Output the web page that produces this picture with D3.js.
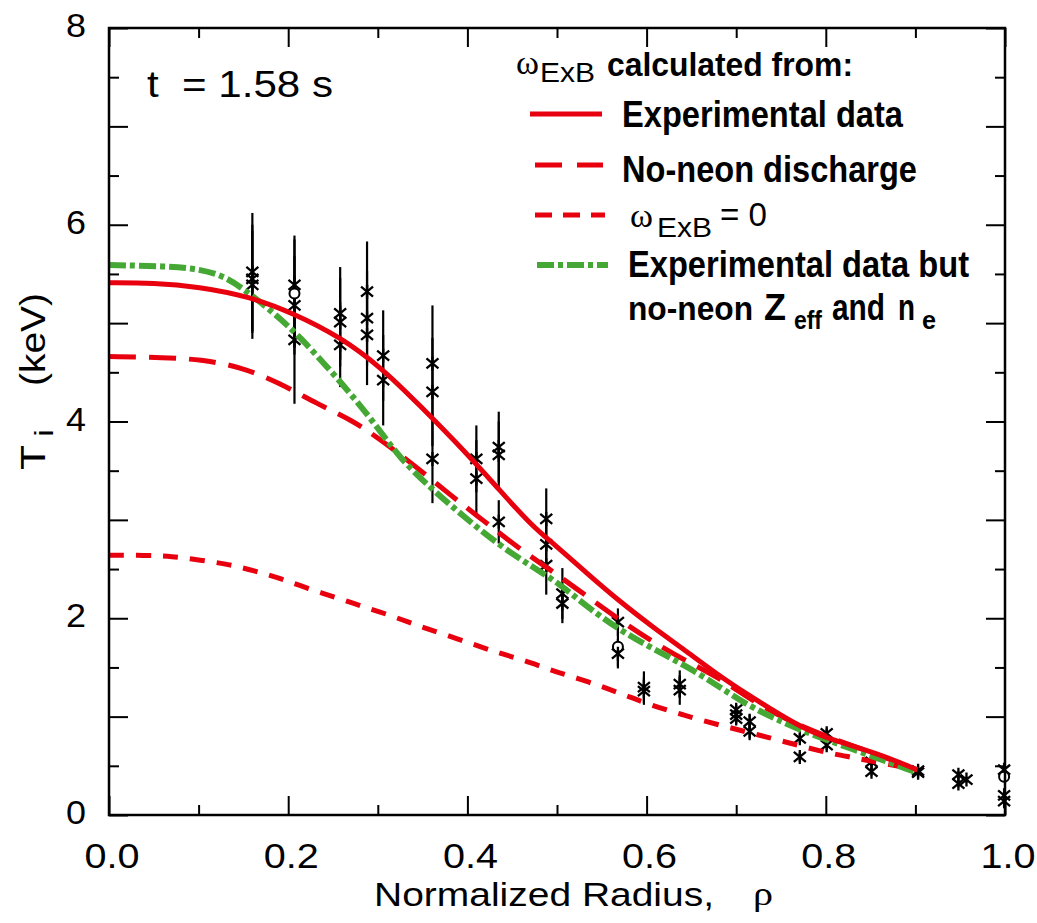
<!DOCTYPE html>
<html>
<head>
<meta charset="utf-8">
<script src="https://cdn.jsdelivr.net/npm/d3@7"></script>
<style>
  body { margin: 0; background: #fff; }
  svg { display: block; }
  text { font-family: "Liberation Sans", Arial, Helvetica, sans-serif; fill: #000; white-space: pre; }
</style>
</head>
<body>
<div id="app"></div>
<script>
// ---- data (rho, Ti in keV) ----
const expRho = [0, 0.05, 0.1, 0.157, 0.206, 0.258, 0.305, 0.345, 0.399, 0.436, 0.473, 0.496, 0.533, 0.570, 0.607, 0.645, 0.682, 0.71, 0.768, 0.801, 0.857, 0.902];
const expTi  = [5.41, 5.41, 5.37, 5.27, 5.10, 4.86, 4.54, 4.18, 3.68, 3.30, 2.93, 2.76, 2.46, 2.17, 1.91, 1.66, 1.41, 1.24, 0.91, 0.78, 0.63, 0.46];

const noNeonRho = [0, 0.063, 0.102, 0.146, 0.191, 0.232, 0.272, 0.299, 0.336, 0.384, 0.417, 0.453, 0.488, 0.522, 0.570, 0.607, 0.645, 0.682, 0.72, 0.76, 0.80, 0.85, 0.902];
const noNeonTi  = [4.66, 4.65, 4.63, 4.56, 4.39, 4.18, 4.01, 3.84, 3.59, 3.23, 3.00, 2.74, 2.52, 2.30, 1.98, 1.76, 1.56, 1.39, 1.15, 0.95, 0.80, 0.64, 0.46];

const zeroRho = [0, 0.04, 0.07, 0.102, 0.133, 0.163, 0.193, 0.222, 0.254, 0.283, 0.314, 0.343, 0.373, 0.405, 0.434, 0.464, 0.494, 0.523, 0.555, 0.581, 0.604, 0.64, 0.674, 0.74, 0.797, 0.827, 0.86, 0.902];
const zeroTi  = [2.64, 2.64, 2.63, 2.59, 2.55, 2.48, 2.40, 2.30, 2.21, 2.12, 2.03, 1.93, 1.84, 1.74, 1.65, 1.57, 1.47, 1.39, 1.29, 1.20, 1.12, 1.02, 0.93, 0.78, 0.64, 0.59, 0.53, 0.46];

const zeffRho = [0, 0.063, 0.102, 0.131, 0.157, 0.187, 0.213, 0.243, 0.269, 0.299, 0.325, 0.362, 0.399, 0.436, 0.473, 0.503, 0.533, 0.570, 0.607, 0.645, 0.682, 0.715, 0.771, 0.827, 0.902];
const zeffTi  = [5.59, 5.58, 5.55, 5.47, 5.30, 5.08, 4.86, 4.56, 4.29, 3.95, 3.62, 3.30, 3.01, 2.74, 2.52, 2.35, 2.12, 1.88, 1.69, 1.51, 1.30, 1.10, 0.86, 0.68, 0.43];

// measured points: rho, Ti, half error bar, symbol (0 = star, 1 = circle)
const ptRho = [0.160, 0.160, 0.160, 0.207, 0.207, 0.207, 0.207, 0.258, 0.258, 0.258, 0.288, 0.288, 0.288, 0.306, 0.306,
               0.361, 0.361, 0.361, 0.410, 0.410, 0.435, 0.435, 0.435, 0.488, 0.488, 0.488, 0.506, 0.506,
               0.568, 0.568, 0.568, 0.597, 0.597, 0.637, 0.637, 0.700, 0.700, 0.700, 0.715, 0.715,
               0.771, 0.771, 0.801, 0.801, 0.851, 0.851, 0.903, 0.903, 0.948, 0.948, 0.957,
               0.999, 0.999, 0.999, 0.999];
const ptTi  = [5.52, 5.45, 5.39, 5.39, 5.30, 5.18, 4.83, 5.10, 5.01, 4.78, 5.32, 5.05, 4.88, 4.67, 4.42,
               4.59, 4.30, 3.62, 3.62, 3.42, 3.74, 3.66, 2.98, 3.01, 2.75, 2.54, 2.25, 2.15,
               1.96, 1.71, 1.64, 1.30, 1.26, 1.33, 1.27, 1.07, 1.02, 0.98, 0.95, 0.85,
               0.78, 0.59, 0.83, 0.71, 0.54, 0.44, 0.45, 0.43, 0.41, 0.32, 0.36,
               0.46, 0.39, 0.20, 0.14];
const ptErr = [0.60, 0.55, 0.55, 0.50, 0.55, 0.50, 0.65, 0.47, 0.45, 0.43, 0.51, 0.48, 0.51, 0.46, 0.46,
               0.59, 0.55, 0.45, 0.34, 0.39, 0.36, 0.34, 0.22, 0.31, 0.28, 0.30, 0.26, 0.20,
               0.14, 0.20, 0.15, 0.16, 0.14, 0.14, 0.15, 0.05, 0.05, 0.05, 0.08, 0.09,
               0.05, 0.05, 0.05, 0.05, 0.05, 0.04, 0.03, 0.03, 0.04, 0.04, 0.03,
               0.04, 0.04, 0.04, 0.04];
const ptSym = [0, 0, 0, 0, 1, 0, 0, 0, 0, 0, 0, 0, 0, 0, 0,
               0, 0, 0, 0, 0, 0, 0, 0, 0, 0, 0, 0, 0,
               0, 1, 0, 0, 0, 0, 0, 0, 0, 0, 0, 0,
               0, 0, 0, 0, 0, 0, 0, 0, 0, 0, 0,
               0, 1, 0, 0];

// axis ticks
const xMajor = [0, 0.2, 0.4, 0.6, 0.8, 1.0];
const xMinor = [0.1, 0.3, 0.5, 0.7, 0.9];
const xLabels = ["0.0", "0.2", "0.4", "0.6", "0.8", "1.0"];
const yMajor = [0, 1, 2, 3, 4, 5, 6, 7, 8];
const yMinor = [0.5, 1.5, 2.5, 3.5, 4.5, 5.5, 6.5, 7.5];
const yLabels = [0, 2, 4, 6, 8];

const red = "#e8000e";
const green = "#45a834";

var w = 1037, h = 923;
const svg = d3.select("#app").append("svg")
  .attr("width", w)
  .attr("height", h);

const x = d3.scaleLinear().domain([0, 1]).range([109, 1005]);
const y = d3.scaleLinear().domain([0, 8]).range([815, 28]);

// text helper: fixed size and stretched/condensed to a given width
function txt(g, s, tx, ty, size, len, opt) {
  opt = opt || {};
  const t = g.append("text")
    .attr("x", tx).attr("y", ty)
    .attr("font-size", size)
    .attr("text-anchor", opt.anchor || "start")
    .text(s);
  if (len) t.attr("textLength", len).attr("lengthAdjust", "spacingAndGlyphs");
  if (opt.weight) t.attr("font-weight", opt.weight);
  if (opt.family) t.style("font-family", opt.family);
  return t;
}

// ---- error bars and markers ----
const pts = d3.range(ptRho.length).map(i => ({ r: ptRho[i], t: ptTi[i], e: ptErr[i], s: ptSym[i] }));
const pg = svg.append("g");
pg.selectAll(".err").data(pts).enter().append("line")
  .attr("x1", d => x(d.r)).attr("x2", d => x(d.r))
  .attr("y1", d => y(d.t - d.e)).attr("y2", d => y(d.t + d.e))
  .attr("stroke", "#000").attr("stroke-width", 2.2);
const mk = pg.selectAll(".pt").data(pts).enter().append("g")
  .attr("transform", d => "translate(" + x(d.r) + "," + y(d.t) + ")");
mk.filter(d => d.s === 0).append("path")
  .attr("d", "M-6,-5L6,5M-6,5L6,-5M0,-7L0,7")
  .attr("stroke", "#000").attr("stroke-width", 2.3).attr("fill", "none");
mk.filter(d => d.s === 1).append("circle")
  .attr("r", 5).attr("fill", "#fff").attr("stroke", "#000").attr("stroke-width", 2);

// ---- model curves ----
const line = d3.line().x(d => x(d[0])).y(d => y(d[1])).curve(d3.curveBasis);
const curves = [
  { rho: zeroRho, ti: zeroTi, dash: "15,12", width: 5, color: red },
  { rho: noNeonRho, ti: noNeonTi, dash: "27,13", width: 5, color: red },
  { rho: zeffRho, ti: zeffTi, dash: "17,4,5,4", width: 6, color: green },
  { rho: expRho, ti: expTi, dash: null, width: 5, color: red }
];
curves.forEach(c => {
  svg.append("path")
    .datum(d3.zip(c.rho, c.ti))
    .attr("d", line)
    .attr("fill", "none")
    .attr("stroke", c.color)
    .attr("stroke-width", c.width)
    .attr("stroke-dasharray", c.dash);
});

// ---- frame and ticks (inward on all four sides) ----
function ticks(gen, vals, len, tr) {
  svg.append("g").attr("transform", tr)
    .call(gen.tickValues(vals).tickSizeInner(len).tickSizeOuter(0).tickFormat(""))
    .call(g => g.select(".domain").remove())
    .selectAll("line").attr("stroke", "#000").attr("stroke-width", 2);
}
ticks(d3.axisBottom(x), xMajor, -19, "translate(0," + y(0) + ")");
ticks(d3.axisBottom(x), xMinor, -10, "translate(0," + y(0) + ")");
ticks(d3.axisTop(x), xMajor, -19, "translate(0," + y(8) + ")");
ticks(d3.axisTop(x), xMinor, -10, "translate(0," + y(8) + ")");
ticks(d3.axisLeft(y), yMajor, -19, "translate(" + x(0) + ",0)");
ticks(d3.axisLeft(y), yMinor, -10, "translate(" + x(0) + ",0)");
ticks(d3.axisRight(y), yMajor, -19, "translate(" + x(1) + ",0)");
ticks(d3.axisRight(y), yMinor, -10, "translate(" + x(1) + ",0)");

svg.append("rect")
  .attr("x", x(0)).attr("y", y(8))
  .attr("width", x(1) - x(0)).attr("height", y(0) - y(8))
  .attr("fill", "none").attr("stroke", "#000").attr("stroke-width", 2.5);

// tick labels
xMajor.forEach((v, i) => txt(svg, xLabels[i], x(v) + 3, 868, 35, 55, { anchor: "middle" }));
yLabels.forEach(v => txt(svg, String(v), 86, y(v) + 9, 34, 20, { anchor: "end" }));

// axis titles
txt(svg, "Normalized Radius,", 374, 906, 33, 340);
txt(svg, "ρ", 753, 905, 34, 20, { family: "'Liberation Serif', serif" });

const yt = svg.append("g").attr("transform", "translate(45,470) rotate(-90)");
txt(yt, "T", 0, 0, 35, 25);
txt(yt, "i", 33, 8, 26, 8);
txt(yt, "(keV)", 84, 0, 35, 93);

txt(svg, "t  = 1.58 s", 147, 97, 36, 186);

// ---- legend ----
const lg = svg.append("g");
const serif = "'Liberation Serif', 'DejaVu Serif', serif";
txt(lg, "ω", 516, 74, 34, 23, { family: serif });
txt(lg, "ExB", 540, 82, 28, 55);
txt(lg, "calculated from:", 607, 76, 34, 246, { weight: "bold" });

const legItems = [
  { y: 114, x1: 530, x2: 602, dash: null, color: red, width: 5 },
  { y: 165, x1: 535, x2: 603, dash: "27,15", color: red, width: 5 },
  { y: 215, x1: 535, x2: 605, dash: "17,11", color: red, width: 5 },
  { y: 265, x1: 537, x2: 608, dash: "17,4,5,4", color: green, width: 6 }
];
lg.selectAll(".leg").data(legItems).enter().append("line")
  .attr("x1", d => d.x1).attr("x2", d => d.x2)
  .attr("y1", d => d.y).attr("y2", d => d.y)
  .attr("stroke", d => d.color).attr("stroke-width", d => d.width)
  .attr("stroke-dasharray", d => d.dash);

txt(lg, "Experimental data", 622, 127, 37, 281, { weight: "bold" });
txt(lg, "No-neon discharge", 622, 182, 37, 295, { weight: "bold" });
txt(lg, "ω", 630, 227, 34, 23, { family: serif });
txt(lg, "ExB", 657, 237, 28, 55);
txt(lg, "= 0", 720, 226, 33, 47);
txt(lg, "Experimental data but", 628, 277, 37, 341, { weight: "bold" });
txt(lg, "no-neon", 628, 320, 34, 125, { weight: "bold" });
txt(lg, "Z", 764, 320, 36, 22, { weight: "bold" });
txt(lg, "eff", 794, 329, 26, 28, { weight: "bold" });
txt(lg, "and", 832, 320, 36, 53, { weight: "bold" });
txt(lg, "n", 898, 320, 36, 17, { weight: "bold" });
txt(lg, "e", 922, 329, 26, 14, { weight: "bold" });
</script>
</body>
</html>
